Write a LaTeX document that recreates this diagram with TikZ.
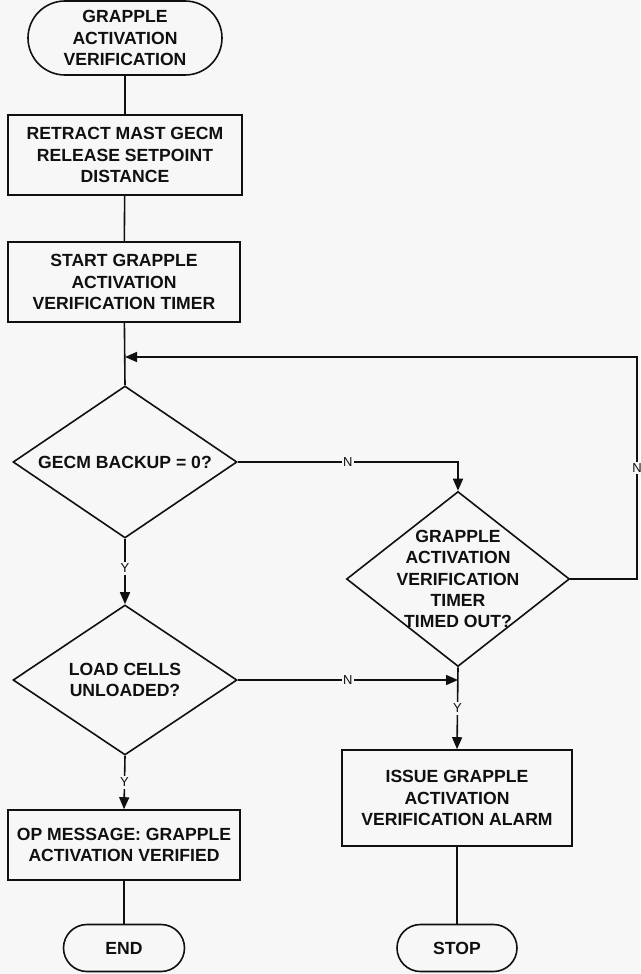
\documentclass[tikz,border=0pt]{standalone}
\usepackage{fontspec}
\setmainfont{Liberation Sans}
\usetikzlibrary{shapes.geometric,shapes.misc,arrows.meta}
\definecolor{paper}{HTML}{F7F7F7}
\definecolor{ink}{HTML}{101010}
\begin{document}
\begin{tikzpicture}[x=1pt,y=-1pt,
  every node/.style={font=\bfseries\fontsize{17.6}{21.3}\selectfont, text=ink, align=center},
  line/.style={draw=ink, line width=1.6pt},
  flow/.style={line, -{Triangle[length=12pt,width=10pt]}},
  proc/.style={draw=ink, line width=1.6pt, rectangle, inner sep=0pt},
  term/.style={draw=ink, line width=1.6pt, rounded rectangle, inner xsep=0pt, inner ysep=0pt},
  decision/.style={draw=ink, line width=1.6pt, diamond, inner sep=0pt},
  yn/.style={font=\fontsize{13}{13}\selectfont, fill=paper, inner xsep=1pt, inner ysep=2pt}
]
\fill[paper] (0,0) rectangle (640,974);
\useasboundingbox (0,0) rectangle (640,974);

% terminals
\node[term, minimum width=194pt, minimum height=74pt] (start) at (125,38)
  {GRAPPLE\\ACTIVATION\\VERIFICATION};
\node[term, minimum width=121pt, minimum height=47pt] (end) at (124,948) {END};
\node[term, minimum width=120pt, minimum height=47pt] (stop) at (457,948) {STOP};

% process boxes
\node[proc, minimum width=234pt, minimum height=80pt] (retract) at (125,155)
  {RETRACT MAST GECM\\RELEASE SETPOINT\\DISTANCE};
\node[proc, minimum width=232pt, minimum height=80pt] (timer) at (124,282)
  {START GRAPPLE\\ACTIVATION\\VERIFICATION TIMER};
\node[proc, minimum width=232pt, minimum height=70pt] (opmsg) at (124,845)
  {OP MESSAGE: GRAPPLE\\ACTIVATION VERIFIED};
\node[proc, minimum width=230pt, minimum height=96pt] (alarm) at (457,798)
  {ISSUE GRAPPLE\\ACTIVATION\\VERIFICATION ALARM};

% decisions
\node[decision, minimum width=224pt, minimum height=152pt] (backup) at (125,462) {};
\node (backupt) at (backup) {GECM BACKUP = 0?};
\node[decision, minimum width=223pt, minimum height=175pt] (timeout) at (458,579) {};
\node (timeoutt) at (timeout) {GRAPPLE\\ACTIVATION\\VERIFICATION\\TIMER\\TIMED OUT?};
\node[decision, minimum width=224pt, minimum height=150pt] (cells) at (125,680) {};
\node (cellst) at (cells) {LOAD CELLS\\UNLOADED?};

% junctions
\coordinate (loopin) at (125,357);
\coordinate (loopR) at (637,357);
\coordinate (loopB) at (637,579);
\coordinate (nbend) at (458,462);
\coordinate (join) at (458,680);

% connectors
\draw[line] (start) -- (retract);
\draw[line] (retract) -- (timer);
\draw[line] (timer) -- (backup.north);
\draw[flow] (timeout.east) -- (loopB) -- node[yn, pos=0.5]{N} (loopR) -- (loopin);
\draw[flow] (backup.east) -- node[yn, pos=0.5]{N} (nbend) -- (timeout.north);
\draw[flow] (backup.south) -- node[yn, pos=0.45]{Y} (cells.north);
\draw[flow] (cells.east) -- node[yn, pos=0.5]{N} (join);
\draw[flow] (timeout.south) -- node[yn, pos=0.5]{Y} (alarm.north);
\draw[flow] (cells.south) -- node[yn, pos=0.5]{Y} (opmsg.north);
\draw[line] (opmsg) -- (end);
\draw[line] (alarm) -- (stop);
\end{tikzpicture}
\end{document}
